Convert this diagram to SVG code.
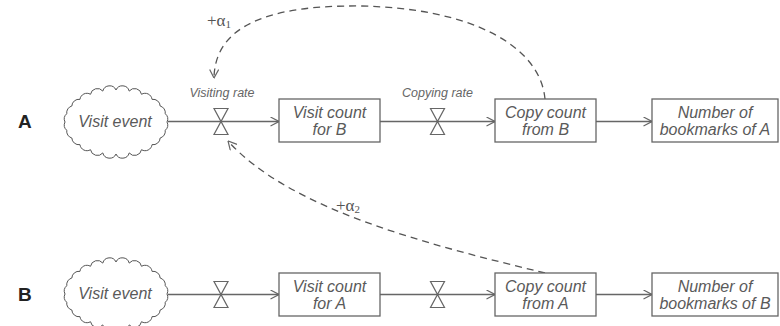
<svg xmlns="http://www.w3.org/2000/svg" xmlns:xlink="http://www.w3.org/1999/xlink" width="780" height="326" viewBox="0 0 780 326">
<style>
.box{fill:#fff;stroke:#666;stroke-width:1.3}
.flow{fill:none;stroke:#666;stroke-width:1.3}
.valve{fill:#fff;stroke:#666;stroke-width:1.2}
.dash{fill:none;stroke:#555;stroke-width:1.3;stroke-dasharray:7,5}
.cloud{fill:#fff;stroke:#555;stroke-width:1}
.t{font-family:"Liberation Sans",Arial,sans-serif;font-style:italic;font-size:16px;fill:#5a5a5a;text-anchor:middle}
.lab{font-family:"Liberation Sans",Arial,sans-serif;font-style:italic;font-size:12.5px;fill:#666;text-anchor:middle}
.row{font-family:"Liberation Sans",Arial,sans-serif;font-weight:bold;font-size:19px;fill:#222}
.al{font-family:"Liberation Serif","Times New Roman",serif;font-size:17px;fill:#555}
</style>
<defs>
<marker id="arr" viewBox="0 0 10 10" refX="9.5" refY="5" markerWidth="10" markerHeight="10" markerUnits="userSpaceOnUse" orient="auto">
<path d="M1,0.5 L9.5,5 L1,9.5" fill="none" stroke="#666" stroke-width="1.2"/>
</marker>
<path id="cloudShape" class="cloud" d="M51,0 A7,7 0 0,1 49.26,8.28 A7,7 0 0,1 44.17,16 A7,7 0 0,1 36.06,22.63 A7,7 0 0,1 25.5,27.71 A7,7 0 0,1 13.2,30.91 A7,7 0 0,1 0,32 A7,7 0 0,1 -13.2,30.91 A7,7 0 0,1 -25.5,27.71 A7,7 0 0,1 -36.06,22.63 A7,7 0 0,1 -44.17,16 A7,7 0 0,1 -49.26,8.28 A7,7 0 0,1 -51,0 A7,7 0 0,1 -49.26,-8.28 A7,7 0 0,1 -44.17,-16 A7,7 0 0,1 -36.06,-22.63 A7,7 0 0,1 -25.5,-27.71 A7,7 0 0,1 -13.2,-30.91 A7,7 0 0,1 0,-32 A7,7 0 0,1 13.2,-30.91 A7,7 0 0,1 25.5,-27.71 A7,7 0 0,1 36.06,-22.63 A7,7 0 0,1 44.17,-16 A7,7 0 0,1 49.26,-8.28 A7,7 0 0,1 51,0 Z"/>
<path id="valveShape" class="valve" d="M-7,-13 L7,-13 L-7,13 L7,13 Z"/>
</defs>

<text class="row" x="18" y="128">A</text>
<text class="row" x="18" y="301">B</text>

<g id="connectors">
  <path class="flow" d="M168,121.5 L279,121.5" marker-end="url(#arr)"/>
  <path class="flow" d="M380,121.5 L495,121.5" marker-end="url(#arr)"/>
  <path class="flow" d="M596,121.5 L652,121.5" marker-end="url(#arr)"/>
  <path class="flow" d="M168,294.5 L279,294.5" marker-end="url(#arr)"/>
  <path class="flow" d="M380,294.5 L495,294.5" marker-end="url(#arr)"/>
  <path class="flow" d="M596,294.5 L652,294.5" marker-end="url(#arr)"/>
  <path class="dash" d="M545,99 C540,45 470,8 360,6 C270,5 215,25 214,78" marker-end="url(#arr)"/>
  <path class="dash" d="M545,273 C430,245 290,210 228,141" marker-end="url(#arr)"/>
  <text class="al" x="207" y="26">+α<tspan font-size="11" dy="2">1</tspan></text>
  <text class="al" x="336" y="211">+α<tspan font-size="11" dy="2">2</tspan></text>
</g>

<g id="cloudA">
  <use xlink:href="#cloudShape" href="#cloudShape" transform="translate(116,122)"/>
  <text class="t" x="115" y="127">Visit event</text>
</g>
<g id="valveA1">
  <use xlink:href="#valveShape" href="#valveShape" transform="translate(221,121.5)"/>
  <text class="lab" x="222" y="97">Visiting rate</text>
</g>
<g id="visitCountB">
  <rect class="box" x="279" y="99" width="101" height="43"/>
  <text class="t" x="329.5" y="118">Visit count</text>
  <text class="t" x="329.5" y="135">for B</text>
</g>
<g id="valveA2">
  <use xlink:href="#valveShape" href="#valveShape" transform="translate(437.5,121.5)"/>
  <text class="lab" x="437.5" y="97">Copying rate</text>
</g>
<g id="copyCountB">
  <rect class="box" x="495" y="99" width="101" height="43"/>
  <text class="t" x="545.5" y="118">Copy count</text>
  <text class="t" x="545.5" y="135">from B</text>
</g>
<g id="bookmarksA">
  <rect class="box" x="652" y="99" width="126" height="43"/>
  <text class="t" x="715" y="118">Number of</text>
  <text class="t" x="715" y="135">bookmarks of A</text>
</g>

<g id="cloudB">
  <use xlink:href="#cloudShape" href="#cloudShape" transform="translate(116,294)"/>
  <text class="t" x="115" y="299">Visit event</text>
</g>
<g id="valveB1">
  <use xlink:href="#valveShape" href="#valveShape" transform="translate(221,294.5)"/>
</g>
<g id="visitCountA">
  <rect class="box" x="279" y="273" width="101" height="43"/>
  <text class="t" x="329.5" y="291.5">Visit count</text>
  <text class="t" x="329.5" y="308.5">for A</text>
</g>
<g id="valveB2">
  <use xlink:href="#valveShape" href="#valveShape" transform="translate(437.5,294.5)"/>
</g>
<g id="copyCountA">
  <rect class="box" x="495" y="273" width="101" height="43"/>
  <text class="t" x="545.5" y="291.5">Copy count</text>
  <text class="t" x="545.5" y="308.5">from A</text>
</g>
<g id="bookmarksB">
  <rect class="box" x="652" y="273" width="126" height="43"/>
  <text class="t" x="715" y="291.5">Number of</text>
  <text class="t" x="715" y="308.5">bookmarks of B</text>
</g>
</svg>
